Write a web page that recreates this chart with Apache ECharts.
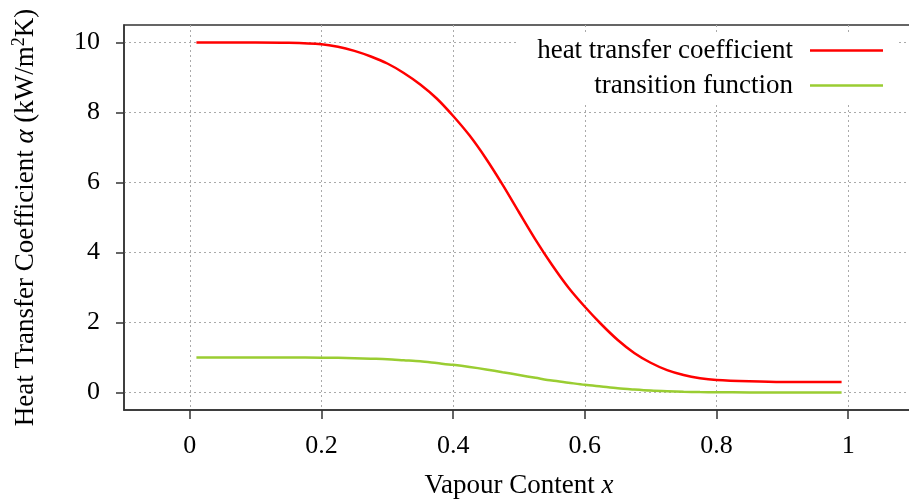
<!DOCTYPE html>
<html style="height: 100%">
<head>
  <meta charset="utf-8">
  <title>Heat transfer coefficient</title>
  <script src="https://cdn.jsdelivr.net/npm/echarts@6/dist/echarts.min.js"></script>
</head>
<body style="margin: 0; height: 100%">
  <div id="main" style="width: 909px; height: 499px"></div>
  <script>
    // vapour content samples and the values
    const vapour = [0.01, 0.05, 0.10, 0.15, 0.200, 0.225, 0.250, 0.275, 0.300, 0.325,
                    0.350, 0.375, 0.400, 0.425, 0.450, 0.475, 0.500, 0.525, 0.550, 0.575,
                    0.600, 0.625, 0.650, 0.675, 0.700, 0.725, 0.750, 0.775, 0.800,
                    0.85, 0.90, 0.95, 0.99];
    const alpha = [10.0, 10.0, 10.0, 9.99, 9.95, 9.88, 9.76, 9.60, 9.40, 9.13,
                   8.80, 8.40, 7.90, 7.34, 6.68, 5.94, 5.15, 4.37, 3.65, 3.00,
                   2.45, 1.95, 1.50, 1.13, 0.85, 0.64, 0.50, 0.41, 0.36,
                   0.32, 0.30, 0.30, 0.30];
    const transition = [1.0, 1.0, 1.0, 1.0, 0.995, 0.99, 0.98, 0.965, 0.95, 0.92,
                        0.89, 0.84, 0.79, 0.73, 0.66, 0.58, 0.50, 0.42, 0.34, 0.28,
                        0.22, 0.17, 0.12, 0.085, 0.055, 0.035, 0.02, 0.012, 0.008,
                        0.003, 0.001, 0, 0];
    const xTicks = [0, 0.2, 0.4, 0.6, 0.8, 1];
    const yTicks = [0, 2, 4, 6, 8, 10];

    const serif = 'Liberation Serif';
    const lineIcon = 'path://M0,0H73V2.5H0Z';
    const chart = echarts.init(document.getElementById('main'));

    chart.setOption({
      animation: false,
      textStyle: { fontFamily: serif },
      grid: {
        left: 124, top: 25, width: 790, bottom: 89,
        outerBoundsMode: 'none',
        show: true, borderColor: '#333', borderWidth: 1.5
      },
      legend: {
        orient: 'vertical',
        right: 11, top: 34,
        align: 'right',
        itemWidth: 73, itemHeight: 24, itemGap: 8,
        padding: [3, 15, 3, 19],
        backgroundColor: '#fff',
        textStyle: { fontFamily: serif, fontSize: 27, color: '#000', padding: [0, 12, 0, 0] },
        data: [
          { name: 'heat transfer coefficient', icon: lineIcon },
          { name: 'transition function', icon: lineIcon }
        ]
      },
      xAxis: {
        type: 'value',
        min: -0.1, max: 1.1,
        splitNumber: 6,
        name: 'Vapour Content {i|x}',
        nameLocation: 'middle',
        nameGap: 62,
        nameTextStyle: {
          fontFamily: serif, fontSize: 27, color: '#000',
          rich: { i: { fontFamily: serif, fontSize: 27, fontStyle: 'italic', color: '#000' } }
        },
        axisLine: { onZero: false, lineStyle: { color: '#333', width: 1.5 } },
        axisTick: { customValues: xTicks, length: 9, inside: false, lineStyle: { color: '#333', width: 1.5 } },
        axisLabel: { customValues: xTicks, margin: 23, fontSize: 26, color: '#000', fontFamily: serif },
        splitLine: { show: true, lineStyle: { color: '#aaa', type: [2, 3], width: 1 } }
      },
      yAxis: {
        type: 'value',
        min: -0.5, max: 10.5,
        splitNumber: 5,
        name: 'Heat Transfer Coefficient {i|α} (kW/m{s|2}K)',
        nameLocation: 'middle',
        nameGap: 82,
        nameTextStyle: {
          fontFamily: serif, fontSize: 27, color: '#000',
          rich: {
            i: { fontFamily: serif, fontSize: 27, fontStyle: 'italic', color: '#000' },
            s: { fontFamily: serif, fontSize: 18, color: '#000', verticalAlign: 'top', lineHeight: 32 }
          }
        },
        axisLine: { onZero: false, lineStyle: { color: '#333', width: 1.5 } },
        axisTick: { customValues: yTicks, length: 8, lineStyle: { color: '#333', width: 1.5 } },
        axisLabel: { customValues: yTicks, margin: 24, fontSize: 26, color: '#000', fontFamily: serif },
        splitLine: { show: true, lineStyle: { color: '#aaa', type: [2, 3], width: 1 } }
      },
      series: [
        {
          name: 'heat transfer coefficient',
          type: 'line',
          data: vapour.map((x, i) => [x, alpha[i]]),
          symbol: 'none',
          smooth: 0.3,
          lineStyle: { color: '#ff0000', width: 2.5 },
          itemStyle: { color: '#ff0000' }
        },
        {
          name: 'transition function',
          type: 'line',
          data: vapour.map((x, i) => [x, transition[i]]),
          symbol: 'none',
          smooth: 0.3,
          lineStyle: { color: '#9acd32', width: 2.5 },
          itemStyle: { color: '#9acd32' }
        }
      ]
    });
  </script>
</body>
</html>
